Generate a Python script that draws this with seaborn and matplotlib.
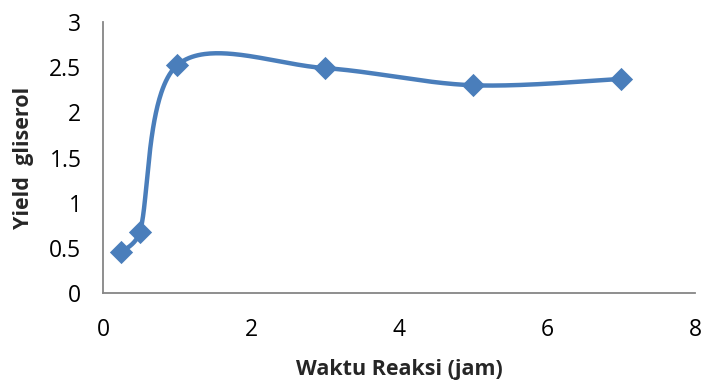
import numpy as np
import pandas as pd
import matplotlib
matplotlib.use("Agg")
import matplotlib.pyplot as plt
import seaborn as sns

# Reaction time (hours) and glycerol yield
waktu = [0.25, 0.5, 1, 3, 5, 7]
yield_gliserol = [0.45, 0.68, 2.52, 2.49, 2.30, 2.37]

x_ticks = [0, 2, 4, 6, 8]
y_ticks = [0, 0.5, 1, 1.5, 2, 2.5, 3]
y_tick_labels = ["0", "0.5", "1", "1.5", "2", "2.5", "3"]

LINE_COLOR = "#4A7EBB"
AXIS_COLOR = "#868686"

FIG_W, FIG_H, DPI = 7.02, 3.8, 100
AX_RECT = [0.1467, 0.229, 0.8433, 0.713]
X_LIM, Y_LIM = (0, 8), (0, 3)


def smooth_curve(xs, ys, scale, n=80):
    """Spreadsheet-style smoothed line: cubic Bezier segments with 1/6 tangents,
    shortened so no control arm exceeds half of its segment (measured on screen)."""
    p = np.column_stack([xs, ys]).astype(float)
    scale = np.asarray(scale, dtype=float)

    def dist(a, b):
        return float(np.hypot(*((b - a) * scale)))

    out = []
    for i in range(len(p) - 1):
        p0 = p[i - 1] if i > 0 else p[i]
        p1 = p[i]
        p2 = p[i + 1]
        p3 = p[i + 2] if i + 2 < len(p) else p[i + 1]
        seg_len = dist(p1, p2)
        d02 = dist(p0, p2)
        d13 = dist(p1, p3)
        f1 = 1.0 / 6.0
        f2 = 1.0 / 6.0
        if d02 > 0 and d02 * f1 > seg_len / 2:
            f1 = (seg_len / 2) / d02
        if d13 > 0 and d13 * f2 > seg_len / 2:
            f2 = (seg_len / 2) / d13
        c1 = p1 + (p2 - p0) * f1
        c2 = p2 - (p3 - p1) * f2
        t = np.linspace(0, 1, n)[:, None]
        seg = ((1 - t) ** 3) * p1 + 3 * ((1 - t) ** 2) * t * c1 \
            + 3 * (1 - t) * t ** 2 * c2 + t ** 3 * p2
        out.append(seg if i == 0 else seg[1:])
    pts_all = np.vstack(out)
    return pts_all[:, 0], pts_all[:, 1]


sns.set_theme(style="white")
plt.rcParams["font.family"] = ["Open Sans", "DejaVu Sans"]

fig = plt.figure(figsize=(FIG_W, FIG_H), dpi=DPI)
ax = fig.add_axes(AX_RECT)

# pixels per data unit, so the smoothing behaves as it does on screen
px_scale = (AX_RECT[2] * FIG_W * DPI / (X_LIM[1] - X_LIM[0]),
            AX_RECT[3] * FIG_H * DPI / (Y_LIM[1] - Y_LIM[0]))
sx, sy = smooth_curve(waktu, yield_gliserol, px_scale)
curve = pd.DataFrame({"x": sx, "y": sy})
pts = pd.DataFrame({"waktu": waktu, "yield": yield_gliserol})

sns.lineplot(data=curve, x="x", y="y", sort=False, color=LINE_COLOR,
             linewidth=3.2, ax=ax, estimator=None)
sns.scatterplot(data=pts, x="waktu", y="yield", marker="D", s=140,
                color=LINE_COLOR, edgecolor=LINE_COLOR, linewidth=0, ax=ax, zorder=3)

ax.set_xlim(*X_LIM)
ax.set_ylim(*Y_LIM)
ax.set_xticks(x_ticks)
ax.set_xticklabels([str(v) for v in x_ticks])
ax.set_yticks(y_ticks)
ax.set_yticklabels(y_tick_labels)

for side in ["top", "right"]:
    ax.spines[side].set_visible(False)
for side in ["left", "bottom"]:
    ax.spines[side].set_color(AXIS_COLOR)
    ax.spines[side].set_linewidth(1.3)

ax.tick_params(axis="both", which="major", direction="out", length=5, width=1.3,
               color=AXIS_COLOR, labelsize=16.5, labelcolor="black")
ax.tick_params(axis="x", pad=13)
ax.tick_params(axis="y", pad=10.5)

ax.set_xlabel("Waktu Reaksi (jam)", fontsize=15.5, fontweight="bold", labelpad=12)
ax.set_ylabel("Yield  gliserol", fontsize=15.5, fontweight="bold", labelpad=11)
ax.grid(False)

fig.savefig("out.png", dpi=DPI)
